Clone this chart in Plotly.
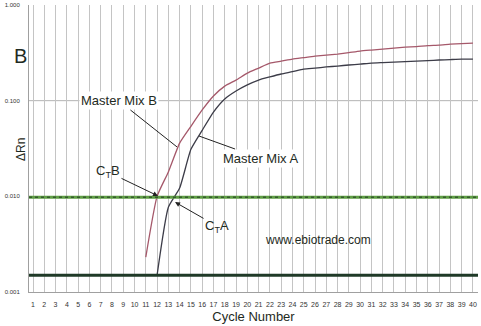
import numpy as np
import plotly.graph_objects as go

# Data
cycles_b = list(range(11, 41))
rn_b = [0.00232, 0.0100, 0.018, 0.036, 0.054, 0.080, 0.112, 0.142, 0.164, 0.194,
        0.219, 0.247, 0.259, 0.272, 0.282, 0.292, 0.299, 0.307, 0.318, 0.330,
        0.338, 0.346, 0.355, 0.363, 0.368, 0.377, 0.381, 0.390, 0.395, 0.400]
cycles_a = list(range(12, 41))
rn_a = [0.0015, 0.0077, 0.0122, 0.031, 0.049, 0.076, 0.104, 0.126, 0.146, 0.164,
        0.177, 0.190, 0.201, 0.214, 0.219, 0.225, 0.230, 0.236, 0.241, 0.247,
        0.250, 0.253, 0.256, 0.259, 0.262, 0.266, 0.269, 0.272, 0.272]
threshold = 0.0098
baseline = 0.0015
x_ticks = list(range(1, 41))
y_ticks = [0.001, 0.01, 0.1, 1.0]
y_ticktext = ["0.001", "0.010", "0.100", "1.000"]

FONT = "Liberation Sans, Arial, sans-serif"
TXT = "#1e2a22"

fig = go.Figure()

# threshold & baseline lines
fig.add_shape(type="line", xref="paper", x0=0, x1=1, yref="y", y0=threshold, y1=threshold,
              line=dict(color="#5f9e44", width=3), layer="above")
fig.add_shape(type="line", xref="paper", x0=0, x1=1, yref="y", y0=threshold, y1=threshold,
              line=dict(color="#1f3a22", width=1, dash="dot"), layer="above")
fig.add_shape(type="line", xref="paper", x0=0, x1=1, yref="y", y0=baseline, y1=baseline,
              line=dict(color="#1f3a27", width=3), layer="above")
fig.add_shape(type="line", xref="paper", x0=0, x1=1, yref="y", y0=0.1, y1=0.1,
              line=dict(color="#b4b4b4", width=1), layer="below")

fig.add_trace(go.Scatter(x=cycles_b, y=rn_b, mode="lines",
                         line=dict(color="#a5586a", width=1.3, shape="spline", smoothing=0.5),
                         showlegend=False))
fig.add_trace(go.Scatter(x=cycles_a, y=rn_a, mode="lines",
                         line=dict(color="#3c3c48", width=1.3, shape="spline", smoothing=0.5),
                         showlegend=False))

def ann(text, x, y, ax, ay, head=0, size=13):
    fig.add_annotation(x=x, y=np.log10(y), xref="x", yref="y", text=text,
                       ax=ax, ay=ay, showarrow=True, arrowhead=head, arrowsize=1,
                       arrowwidth=1, arrowcolor="#222",
                       font=dict(family=FONT, size=size, color=TXT),
                       bgcolor="white" if head == 0 else "rgba(0,0,0,0)")

ann("Master Mix B", 13.77, 0.0328, -58, -46)
ann("Master Mix A", 15.72, 0.0427, 61, 22)
ann("C<sub>T</sub>B", 12.08, 0.0101, -50, -24, head=2)
ann("C<sub>T</sub>A", 13.59, 0.0087, 42, 24, head=2)

fig.update_layout(
    width=481, height=326,
    margin=dict(l=29, r=3, t=5, b=34),
    paper_bgcolor="white", plot_bgcolor="white",
    xaxis=dict(range=[0.645, 40.45], tickvals=x_ticks, ticktext=[str(v) for v in x_ticks],
               showgrid=True, gridcolor="#c4c4c4", gridwidth=1,
               showline=True, linecolor="#a0a0a0", linewidth=1, zeroline=False,
               ticks="", ticklabelstandoff=6,
               tickfont=dict(family=FONT, size=7, color="#333"),
               title=dict(text="Cycle Number", standoff=4,
                          font=dict(family=FONT, size=13, color=TXT))),
    yaxis=dict(type="log", range=[-3, 0], tickvals=y_ticks, ticktext=y_ticktext,
               showgrid=False, showline=True, linecolor="#a0a0a0", linewidth=1,
               zeroline=False, ticks="", ticklabelstandoff=7,
               tickfont=dict(family=FONT, size=6, color="#333")),
)

def px_ann(text, px, py, size, angle=0):
    fig.add_annotation(x=(px - 29) / 449, y=(326 - 34 - py) / 287, xref="paper", yref="paper",
                       text=text, showarrow=False, textangle=angle,
                       font=dict(family=FONT, size=size, color=TXT))

px_ann("www.ebiotrade.com", 373, 249, 12)
px_ann("B", 12, 43, 20)
px_ann("ΔRn", 12, 150, 12, angle=-90)

fig.write_html("out.html")
